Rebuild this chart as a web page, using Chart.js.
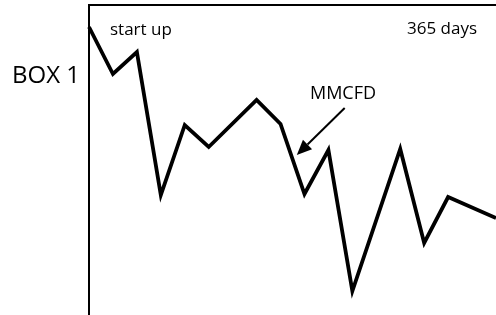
<!DOCTYPE html>
<html>
<head>
<meta charset="utf-8">
<script src="https://cdn.jsdelivr.net/npm/chart.js@4"></script>
<style>
  html, body { margin: 0; padding: 0; background: #fff; }
  #wrap { width: 496px; height: 315px; }
</style>
</head>
<body>
<div id="wrap"><canvas id="chart" width="496" height="315"></canvas></div>
<script>
// sample index along the year (0 = start up, 17 = 365 days)
const days = [0, 1, 2, 3, 4, 5, 7, 8, 9, 10, 11, 13, 14, 15, 17];
// gas rate, arbitrary units
const mmcfd = [288, 241, 263, 120, 190, 168, 215, 191, 121, 165, 24, 166, 72, 118, 97];

const xMax = 17;
const yMax = 310;

const labelStart = "start up";
const labelEnd = "365 days";
const labelBox = "BOX 1";
const labelSeries = "MMCFD";

// arrow from the MMCFD label down onto the curve (data units)
const arrowFrom = { x: 10.68, y: 207 };
const arrowTo = { x: 8.68, y: 160 };

const FONT = '"Open Sans", sans-serif';

const sketchPlugin = {
  id: "sketch",
  afterDraw(chart) {
    const { ctx, chartArea: a, scales: { x, y } } = chart;
    ctx.save();

    // box frame: left + top edges only
    ctx.strokeStyle = "#000";
    ctx.lineWidth = 2;
    ctx.beginPath();
    ctx.moveTo(a.left, chart.height);
    ctx.lineTo(a.left, a.top);
    ctx.lineTo(chart.width, a.top);
    ctx.stroke();

    ctx.fillStyle = "#000";
    ctx.textBaseline = "alphabetic";

    ctx.font = "17px " + FONT;
    ctx.textAlign = "left";
    ctx.fillText(labelStart, a.left + 21, 35);
    ctx.textAlign = "right";
    ctx.fillText(labelEnd, 477, 34);

    ctx.font = "24px " + FONT;
    ctx.textAlign = "left";
    ctx.fillText(labelBox, 12, 83);

    // arrow
    const x0 = x.getPixelForValue(arrowFrom.x), y0 = y.getPixelForValue(arrowFrom.y);
    const x1 = x.getPixelForValue(arrowTo.x), y1 = y.getPixelForValue(arrowTo.y);
    const ang = Math.atan2(y1 - y0, x1 - x0);
    const headLen = 15, headW = 6.5;
    const bx = x1 - headLen * Math.cos(ang), by = y1 - headLen * Math.sin(ang);
    ctx.lineWidth = 2;
    ctx.beginPath();
    ctx.moveTo(x0, y0);
    ctx.lineTo(bx, by);
    ctx.stroke();
    ctx.beginPath();
    ctx.moveTo(x1, y1);
    ctx.lineTo(bx + headW * Math.sin(ang), by - headW * Math.cos(ang));
    ctx.lineTo(bx - headW * Math.sin(ang), by + headW * Math.cos(ang));
    ctx.closePath();
    ctx.fill();

    ctx.font = "18px " + FONT;
    ctx.textAlign = "center";
    ctx.fillText(labelSeries, 343, 99);

    ctx.restore();
  }
};

new Chart(document.getElementById("chart"), {
  type: "line",
  data: {
    datasets: [{
      data: days.map((d, i) => ({ x: d, y: mmcfd[i] })),
      borderColor: "#000",
      borderWidth: 3.8,
      borderJoinStyle: "miter",
      tension: 0,
      pointRadius: 0,
      fill: false,
      clip: false
    }]
  },
  options: {
    responsive: false,
    animation: false,
    events: [],
    layout: { padding: { left: 89, top: 5, right: 0, bottom: 0 } },
    plugins: { legend: { display: false }, tooltip: { enabled: false } },
    scales: {
      x: { type: "linear", min: 0, max: xMax, display: false },
      y: { type: "linear", min: 0, max: yMax, display: false }
    }
  },
  plugins: [sketchPlugin]
});
</script>
</body>
</html>
